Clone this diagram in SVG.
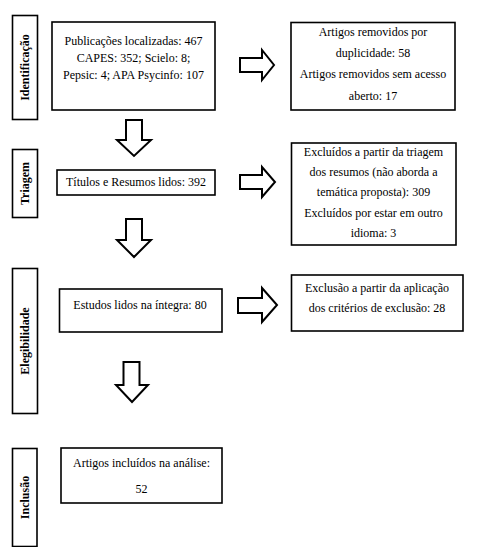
<svg xmlns="http://www.w3.org/2000/svg" width="481" height="547" viewBox="0 0 481 547">
<style>
.box{fill:#fff;stroke:#000;stroke-width:1.6}
.arr{fill:#fff;stroke:#000;stroke-width:2;stroke-linejoin:miter}
.t{font-family:"Liberation Serif","Times New Roman",serif;font-size:12px;fill:#000;text-anchor:middle}
.lab{font-family:"Liberation Serif","Times New Roman",serif;font-size:12px;font-weight:bold;fill:#000;text-anchor:middle}
</style>
<rect width="481" height="547" fill="#fff"/>
<g id="connectors">
<path class="arr" d="M240,58 H262 V50 L274,65 L262,80 V72 H240 Z"/>
<path class="arr" d="M240,175 H262 V167 L275,182 L262,197 V189 H240 Z"/>
<path class="arr" d="M238,298 H262 V288 L277,305 L262,322 V313 H238 Z"/>
<path class="arr" d="M126,120 V140 H117 L134,156 L151,140 H142 V120 Z"/>
<path class="arr" d="M126,219 V240 H117 L134,257 L151,240 H142 V219 Z"/>
<path class="arr" d="M123.5,362 V385 H116 L132,402 L148,385 H139.5 V362 Z"/>
</g>
<g id="lab-identificacao">
<rect class="box" x="12.5" y="15.5" width="25" height="104"/>
<text class="lab" transform="translate(29,67.5) rotate(-90)">Identificação</text>
</g>
<g id="lab-triagem">
<rect class="box" x="12.5" y="149.5" width="25" height="68"/>
<text class="lab" transform="translate(29,183.5) rotate(-90)">Triagem</text>
</g>
<g id="lab-elegibilidade">
<rect class="box" x="12.5" y="268.5" width="25" height="145"/>
<text class="lab" transform="translate(29,341) rotate(-90)">Elegibilidade</text>
</g>
<g id="lab-inclusao">
<rect class="box" x="12.5" y="448.5" width="24.5" height="98"/>
<text class="lab" transform="translate(29,497.5) rotate(-90)">Inclusão</text>
</g>
<g id="n-publicacoes">
<rect class="box" x="52" y="22" width="163" height="88"/>
<text class="t" x="133.5" y="45">Publicações localizadas: 467</text>
<text class="t" x="133.5" y="62">CAPES: 352; Scielo: 8;</text>
<text class="t" x="133.5" y="79">Pepsic: 4; APA Psycinfo: 107</text>
</g>
<g id="n-removidos">
<rect class="box" x="291" y="22.5" width="164" height="87.5"/>
<text class="t" x="373" y="36">Artigos removidos por</text>
<text class="t" x="373" y="57">duplicidade: 58</text>
<text class="t" x="373" y="78">Artigos removidos sem acesso</text>
<text class="t" x="373" y="100">aberto: 17</text>
</g>
<g id="n-titulos">
<rect class="box" x="57" y="170" width="158" height="25"/>
<text class="t" x="136" y="186">Títulos e Resumos lidos: 392</text>
</g>
<g id="n-excluidos">
<rect class="box" x="291.5" y="143" width="164.5" height="102"/>
<text class="t" x="373.5" y="156">Excluídos a partir da triagem</text>
<text class="t" x="373.5" y="176">dos resumos (não aborda a</text>
<text class="t" x="373.5" y="196">temática proposta): 309</text>
<text class="t" x="373.5" y="217">Excluídos por estar em outro</text>
<text class="t" x="373.5" y="237">idioma: 3</text>
</g>
<g id="n-estudos">
<rect class="box" x="59.5" y="289" width="162.5" height="43"/>
<text class="t" x="140" y="309">Estudos lidos na íntegra: 80</text>
</g>
<g id="n-exclusao">
<rect class="box" x="291.5" y="275" width="171.5" height="56"/>
<text class="t" x="377" y="292">Exclusão a partir da aplicação</text>
<text class="t" x="377" y="312">dos critérios de exclusão: 28</text>
</g>
<g id="n-incluidos">
<rect class="box" x="61" y="448" width="161" height="55"/>
<text class="t" x="141.5" y="467">Artigos incluídos na análise:</text>
<text class="t" x="141.5" y="493">52</text>
</g>
</svg>
